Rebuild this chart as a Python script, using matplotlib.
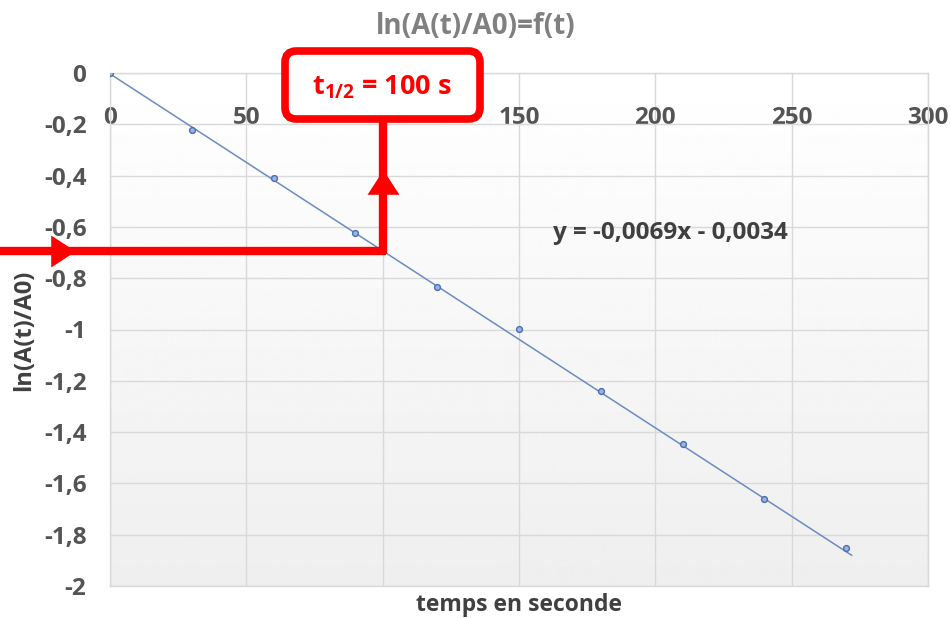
import numpy as np
import matplotlib
matplotlib.use("Agg")
import matplotlib.pyplot as plt
import matplotlib.transforms as mtransforms
from matplotlib.patches import FancyBboxPatch
from matplotlib.lines import Line2D

# ---- data ----
t_values = [0, 30, 60, 90, 120, 150, 180, 210, 240, 270]
ln_values = [0.0, -0.222, -0.409, -0.624, -0.834, -0.998, -1.240, -1.446, -1.661, -1.852]
slope = -0.0069
intercept = -0.0034
trend_x = [0, 272]
x_ticks = [0, 50, 100, 150, 200, 250, 300]
x_tick_labels = ["0", "50", "", "150", "200", "250", "300"]  # "100" is hidden under the box
y_ticks = [0, -0.2, -0.4, -0.6, -0.8, -1, -1.2, -1.4, -1.6, -1.8, -2]
y_tick_labels = ["0", "-0,2", "-0,4", "-0,6", "-0,8", "-1", "-1,2", "-1,4", "-1,6", "-1,8", "-2"]
t_half = 100
y_half = np.log(0.5)
title = "ln(A(t)/A0)=f(t)"
xlabel = "temps en seconde"
ylabel = "ln(A(t)/A0)"
equation = "y = -0,0069x - 0,0034"
half_label = r"t$_{\mathbf{1/2}}$ = 100 s"

FONT = ['Open Sans', 'DejaVu Sans']
plt.rcParams['font.family'] = FONT
plt.rcParams['font.weight'] = 'bold'
plt.rcParams['mathtext.fontset'] = 'custom'
plt.rcParams['mathtext.rm'] = 'Open Sans:bold'
plt.rcParams['mathtext.bf'] = 'Open Sans:bold'

fig = plt.figure(figsize=(9.5, 6.18), dpi=100)
W, H = 950, 618
ax = fig.add_axes([110 / W, 1 - 586 / H, (928 - 110) / W, (586 - 73) / H])

# gradient background
grad = np.linspace(1.0, 0.935, 256).reshape(-1, 1)
ax.imshow(grad, extent=[0, 1, 0, 1], transform=ax.transAxes, cmap='gray',
          vmin=0, vmax=1, aspect='auto', zorder=0)

ax.set_xlim(0, 300)
ax.set_ylim(-2, 0)
ax.set_xticks(x_ticks)
ax.set_xticklabels(x_tick_labels, fontweight='bold')
ax.set_yticks(y_ticks)
ax.set_yticklabels(y_tick_labels, fontweight='bold')
ax.grid(True, color='#d9d9d9', linewidth=1.0, zorder=1)
ax.set_axisbelow(True)
for s in ax.spines.values():
    s.set_color('#d9d9d9')
    s.set_linewidth(1.0)

ax.xaxis.set_ticks_position('top')
ax.tick_params(axis='x', which='both', length=0, labeltop=True, labelbottom=False,
               pad=-41, labelsize=17.5, labelcolor='#545454')
ax.tick_params(axis='y', which='both', length=0, pad=17, labelsize=17.5,
               labelcolor='#545454')

# trend line
tx = np.array(trend_x, dtype=float)
ax.plot(tx, slope * tx + intercept, color='#6b8cc0', linewidth=1.1, zorder=3)
# points
ax.plot(t_values, ln_values, linestyle='none', marker='o', ms=4.2,
        markerfacecolor='#9cb3dc', markeredgecolor='#4a6fb5', markeredgewidth=1.0,
        zorder=4)

# equation
ax.text(162.5, -0.624, equation, fontsize=17.5, color='#404040', fontweight='bold',
        ha='left', va='center', zorder=5)

# titles
fig.text(476 / W, 1 - 27 / H, title, fontsize=20, color='#808080', fontweight='bold',
         ha='center', va='center')
fig.text(519 / W, 1 - 605 / H, xlabel, fontsize=16.5, color='#404040', fontweight='bold',
         ha='center', va='center')
fig.text(24 / W, 1 - 330 / H, ylabel, fontsize=17, color='#404040', fontweight='bold',
         ha='center', va='center', rotation=90)

# ---- red annotations ----
red = '#ff0000'
blend = mtransforms.blended_transform_factory(fig.transFigure, ax.transData)
x_end_fig = fig.transFigure.inverted().transform(ax.transData.transform((t_half, y_half)))[0]
fig.add_artist(Line2D([0, x_end_fig + 3 / W], [y_half, y_half], transform=blend, color=red,
                      linewidth=6, solid_capstyle='butt', clip_on=False, zorder=6))
fig.add_artist(Line2D([63 / W], [y_half], transform=blend,
                      marker=[(-1, -1.3), (1, 0), (-1, 1.3)],
                      ms=23, color=red, markeredgewidth=0, linestyle='none',
                      clip_on=False, zorder=7))

box_bottom = 1 - 122 / H
blend_v = mtransforms.blended_transform_factory(ax.transData, fig.transFigure)
y_start_fig = fig.transFigure.inverted().transform(ax.transData.transform((t_half, y_half)))[1]
fig.add_artist(Line2D([t_half, t_half], [y_start_fig - 3 / H, box_bottom], transform=blend_v,
                      color=red, linewidth=6, solid_capstyle='butt', clip_on=False, zorder=6))
fig.add_artist(Line2D([t_half], [1 - 182 / H], transform=blend_v,
                      marker=[(-1.3, -1), (0, 1), (1.3, -1)], ms=23, color=red,
                      markeredgewidth=0, linestyle='none', clip_on=False, zorder=7))

# box
bx0, by0, bx1, by1 = 285, 51, 480, 119
box = FancyBboxPatch((bx0 / W, 1 - by1 / H), (bx1 - bx0) / W, (by1 - by0) / H,
                     boxstyle="round,pad=0,rounding_size=0.012",
                     transform=fig.transFigure, facecolor='white', edgecolor=red,
                     linewidth=5.5, zorder=8, mutation_aspect=W / H)
fig.add_artist(box)
fig.text(382 / W, 1 - 87 / H, half_label, fontsize=19.5, color=red, fontweight='bold',
         ha='center', va='center', zorder=9)

fig.savefig("out.png", dpi=100)
